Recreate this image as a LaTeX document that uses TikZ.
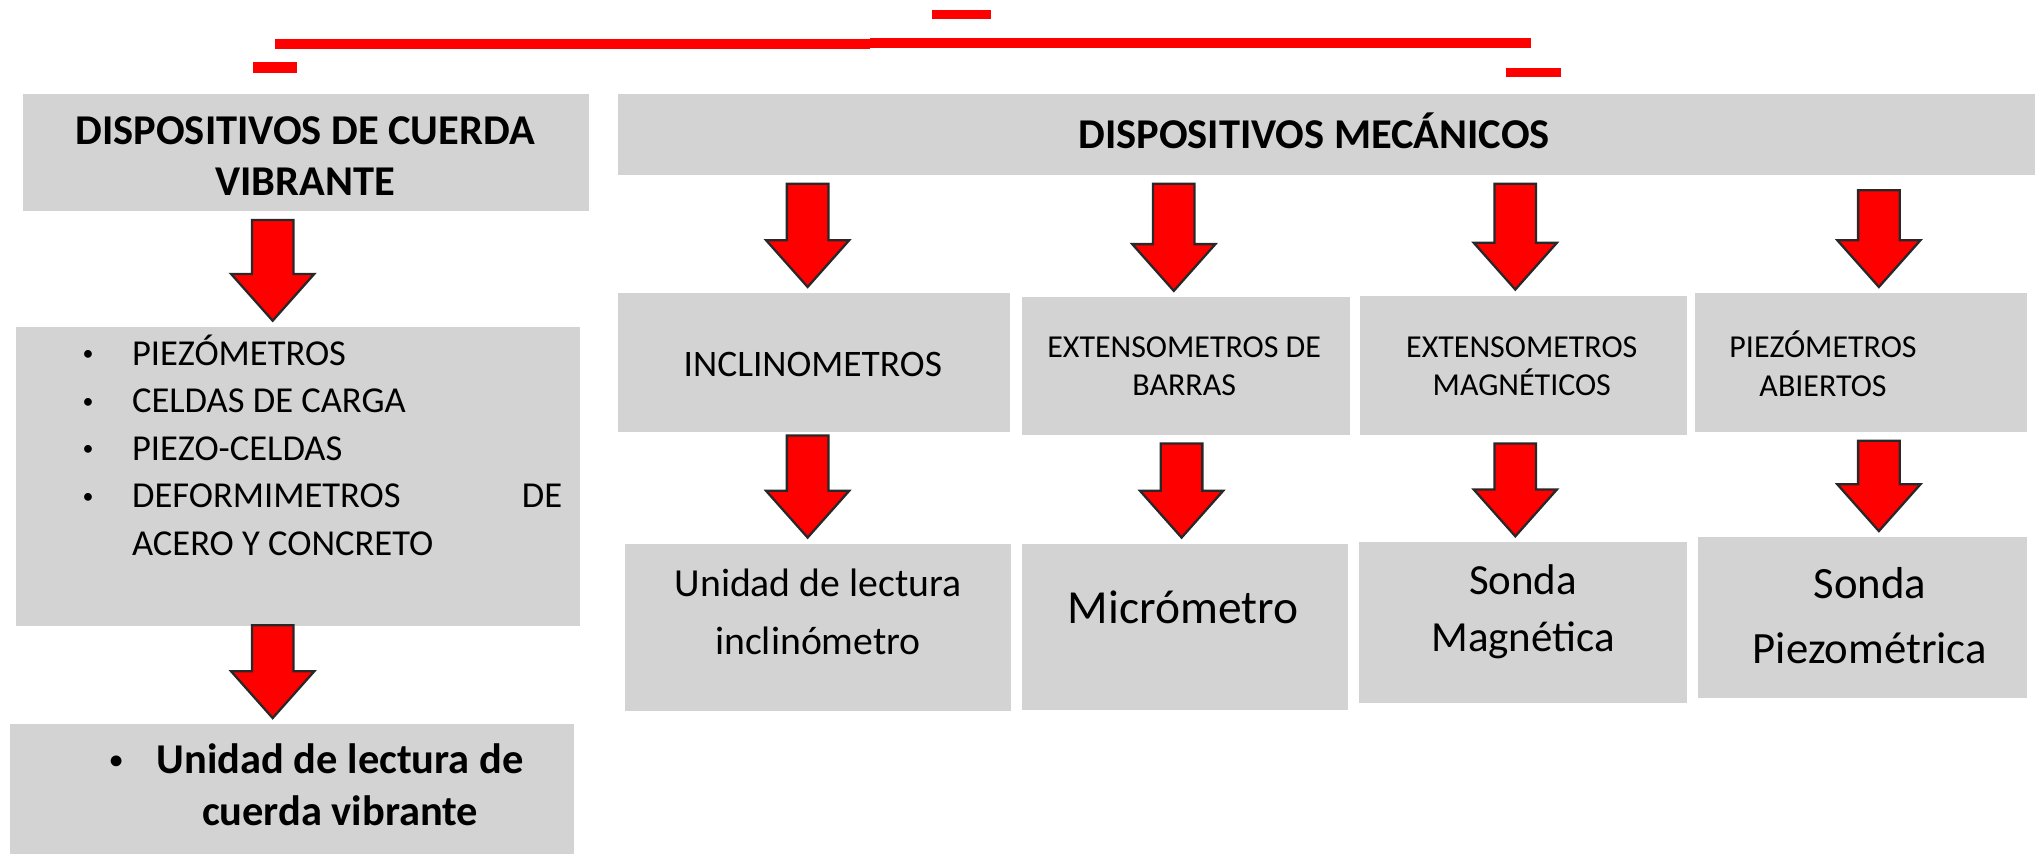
\documentclass[tikz,border=0pt]{standalone}
\usepackage{fontspec}
\setmainfont{Carlito}
\usepackage{graphicx}
\usepackage{tikz}
\usetikzlibrary{calc, positioning}
\definecolor{boxgray}{RGB}{211,211,211}
\definecolor{arrowred}{RGB}{255,0,0}
\definecolor{linkred}{RGB}{255,0,0}
\definecolor{arrowedge}{RGB}{40,40,40}

\tikzset{
  box/.style={fill=boxgray, inner sep=0pt, anchor=north west},
  hdr/.style={font=\bfseries\fontsize{9.3}{11.1}\selectfont, align=center, inner sep=0pt},
  sub/.style={font=\fontsize{7}{8.3}\selectfont, align=center, inner sep=0pt},
  unit/.style={font=\fontsize{8.7}{12.8}\selectfont, align=center, inner sep=0pt},
  bigarrow/.style={fill=arrowred, draw=arrowedge, line width=0.5pt, line join=miter},
}
\newcommand{\listdot}{\raisebox{0.12em}{\scalebox{0.6}{\textbullet}}}
% block arrow at x=#1 from node #2 down to node #3
\newcommand{\redarrow}[4][6]{%
  \draw[bigarrow] ($(#3.south -| #2,0)+(-16,#1)$) -- ++(32,0)
    -- ($(#4.north -| #2,0)+(16,-40)$) -- ++(16,0)
    -- ($(#4.north -| #2,0)+(0,-4)$) -- ++(-32,-36) -- ++(16,0) -- cycle;}

\begin{document}
\begin{tikzpicture}[x=0.01cm, y=-0.01cm]
  \useasboundingbox (0,0) rectangle (1568,657);
  % Broken connector on top
  \fill[linkred] (212,30) rectangle (670,37.5);
  \fill[linkred] (670,29.5) rectangle (1179,37);
  \fill[linkred] (718,8) rectangle (763,15);
  \fill[linkred] (195,48) rectangle (229,56);
  \fill[linkred] (1160,52) rectangle (1202,59.5);

  % Vibrating wire branch
  \node[box, minimum width=4.36cm, minimum height=0.90cm] (cuerda) at (17,72) {};
  \node[hdr] (cuerda-t) at (235,120) {DISPOSITIVOS DE CUERDA\\VIBRANTE};
  \node[box, minimum width=4.34cm, minimum height=2.30cm] (lista) at (12,251) {};
  \node[anchor=north west, inner sep=0pt, font=\fontsize{8}{10.4}\selectfont] (lista-t) at (63,255) {%
    \begin{tabular}{@{}p{0.38cm}@{}p{3.31cm}@{}}
      \listdot & PIEZÓMETROS\\
      \listdot & CELDAS DE CARGA\\
      \listdot & PIEZO-CELDAS\\
      \listdot & DEFORMIMETROS\hfill DE\\
               & ACERO Y CONCRETO
    \end{tabular}};
  \node[box, minimum width=4.34cm, minimum height=1.00cm] (lectura) at (7,557) {};
  \node[anchor=base west, inner sep=0pt, font=\bfseries\fontsize{9.3}{11.4}\selectfont] (lectura-t) at (84,596) {%
    \makebox[0.36cm][l]{\listdot}\begin{tabular}[t]{@{}c@{}}Unidad de lectura de\\cuerda vibrante\end{tabular}};
  \redarrow{210}{cuerda}{lista}
  \redarrow[-1]{210}{lista}{lectura}

  % Mechanical branch
  \node[box, minimum width=10.91cm, minimum height=0.62cm] (mecanicos) at (475,72) {};
  \node[hdr] (mecanicos-t) at (1012,101) {DISPOSITIVOS MECÁNICOS};

  \node[box, minimum width=3.02cm, minimum height=1.07cm] (incl) at (475,225) {};
  \node[sub, font=\fontsize{8.2}{9.8}\selectfont] (incl-t) at (626,281) {INCLINOMETROS};
  \node[box, minimum width=2.53cm, minimum height=1.06cm] (barras) at (786,228) {};
  \node[sub] (barras-t) at (912,282) {EXTENSOMETROS DE\\BARRAS};
  \node[box, minimum width=2.51cm, minimum height=1.07cm] (magn) at (1047,227) {};
  \node[sub] (magn-t) at (1172,282) {EXTENSOMETROS\\MAGNÉTICOS};
  \node[box, minimum width=2.55cm, minimum height=1.07cm] (abiertos) at (1305,225) {};
  \node[sub, font=\fontsize{7}{8.5}\selectfont] (abiertos-t) at (1404,280) {PIEZÓMETROS\\ABIERTOS};

  \node[box, minimum width=2.97cm, minimum height=1.29cm] (lec-incl) at (481,418) {};
  \node[unit] (lec-incl-t) at (630,471) {Unidad de lectura\\inclinómetro};
  \node[box, minimum width=2.51cm, minimum height=1.28cm] (micro) at (786,418) {};
  \node[unit, font=\fontsize{10.4}{12.8}\selectfont] (micro-t) at (911,468) {Micrómetro};
  \node[box, minimum width=2.52cm, minimum height=1.24cm] (sonda-m) at (1046,417) {};
  \node[unit, font=\fontsize{9.4}{12.5}\selectfont] (sonda-m-t) at (1173,471) {Sonda\\Magnética};
  \node[box, minimum width=2.53cm, minimum height=1.24cm] (sonda-p) at (1307,413) {};
  \node[unit, font=\fontsize{9.8}{14.2}\selectfont] (sonda-p-t) at (1440,474) {Sonda\\Piezométrica};

  \redarrow{622}{mecanicos}{incl}
  \redarrow{904}{mecanicos}{barras}
  \redarrow{1167}{mecanicos}{magn}
  \redarrow[11]{1447}{mecanicos}{abiertos}
  \redarrow[2]{622}{incl}{lec-incl}
  \redarrow{910}{barras}{micro}
  \redarrow{1167}{magn}{sonda-m}
  \redarrow{1447}{abiertos}{sonda-p}
\end{tikzpicture}
\end{document}
